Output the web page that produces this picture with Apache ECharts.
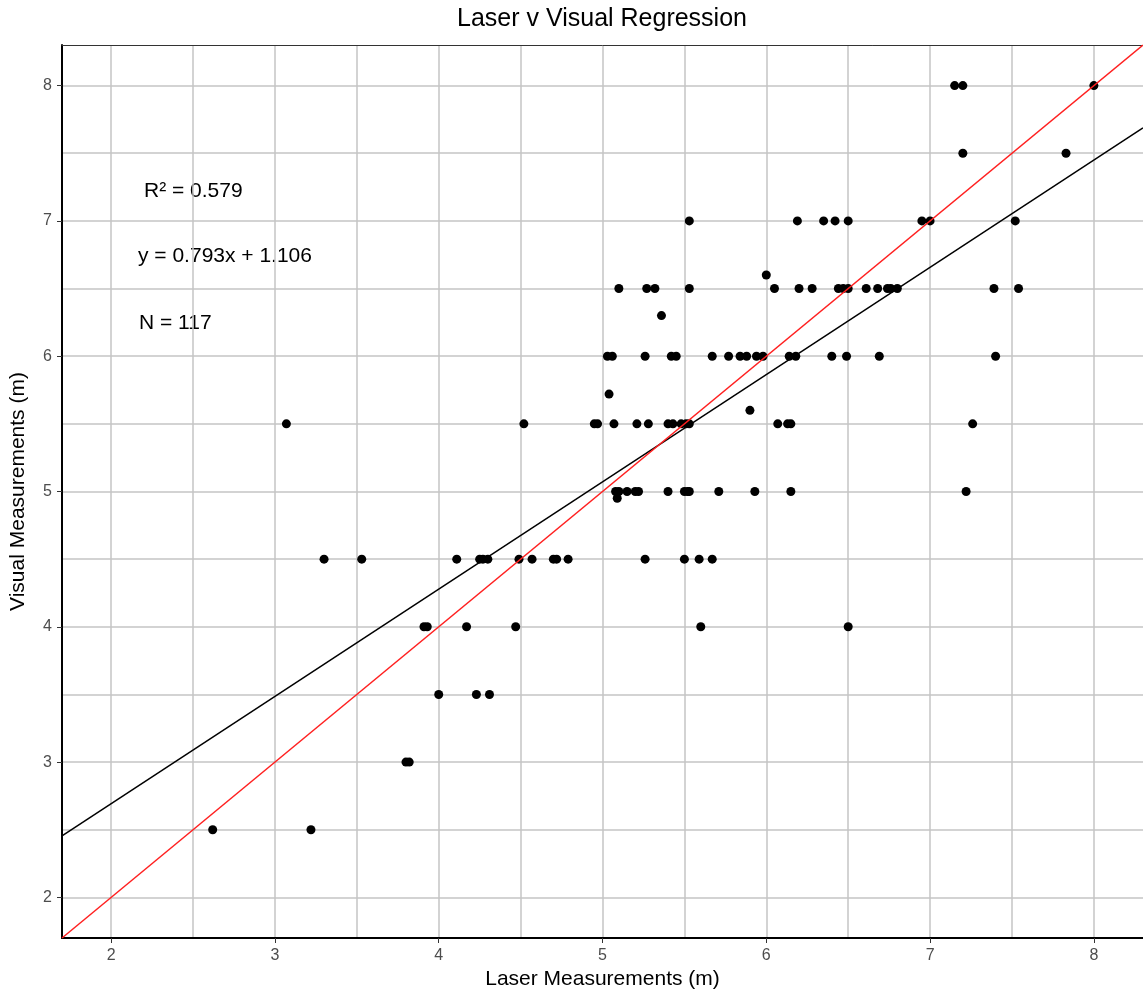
<!DOCTYPE html>
<html>
<head>
<meta charset="utf-8">
<script src="https://cdn.jsdelivr.net/npm/echarts@6/dist/echarts.min.js"></script>
<style>
html,body{margin:0;padding:0;background:#ffffff;}
#chart{width:1143px;height:994px;}
</style>
</head>
<body>
<div id="chart"></div>
<script>
// ---- data ----
const laserM = [
  7.15, 7.20, 8.00,
  7.20, 7.83,
  5.53, 6.19, 6.35, 6.42, 6.50, 6.95, 7.00, 7.52,
  6.00,
  5.10, 5.27, 5.32, 5.53, 6.05, 6.20, 6.28, 6.44, 6.47, 6.50, 6.61, 6.68, 6.74, 6.76, 6.80, 7.39, 7.54,
  5.36,
  5.03, 5.06, 5.26, 5.42, 5.45, 5.67, 5.77, 5.84, 5.88, 5.94, 5.98, 6.14, 6.18, 6.40, 6.49, 6.69, 7.40,
  5.04,
  5.90,
  3.07, 4.52, 4.95, 4.97, 5.07, 5.21, 5.28, 5.40, 5.43, 5.48, 5.51, 5.53, 6.07, 6.13, 6.15, 7.26,
  5.08, 5.10, 5.15, 5.20, 5.22, 5.40, 5.50, 5.52, 5.53, 5.71, 5.93, 6.15, 7.22,
  5.09,
  3.30, 3.53, 4.11, 4.25, 4.27, 4.30, 4.49, 4.57, 4.70, 4.72, 4.79, 5.26, 5.50, 5.59, 5.67,
  3.91, 3.93, 4.17, 4.47, 5.60, 6.50,
  4.00, 4.23, 4.31,
  3.80, 3.82,
  2.62, 3.22
];
const visualM = [
  8, 8, 8,
  7.5, 7.5,
  7, 7, 7, 7, 7, 7, 7, 7,
  6.6,
  6.5, 6.5, 6.5, 6.5, 6.5, 6.5, 6.5, 6.5, 6.5, 6.5, 6.5, 6.5, 6.5, 6.5, 6.5, 6.5, 6.5,
  6.3,
  6, 6, 6, 6, 6, 6, 6, 6, 6, 6, 6, 6, 6, 6, 6, 6, 6,
  5.72,
  5.6,
  5.5, 5.5, 5.5, 5.5, 5.5, 5.5, 5.5, 5.5, 5.5, 5.5, 5.5, 5.5, 5.5, 5.5, 5.5, 5.5,
  5, 5, 5, 5, 5, 5, 5, 5, 5, 5, 5, 5, 5,
  4.95,
  4.5, 4.5, 4.5, 4.5, 4.5, 4.5, 4.5, 4.5, 4.5, 4.5, 4.5, 4.5, 4.5, 4.5, 4.5,
  4, 4, 4, 4, 4, 4,
  3.5, 3.5, 3.5,
  3, 3,
  2.5, 2.5
];
const regSlope = 0.793;
const regIntercept = 1.106;
const axisMin = 1.7;
const axisMax = 8.3;
const majorTicks = [2, 3, 4, 5, 6, 7, 8];
const gridTicks = [2, 2.5, 3, 3.5, 4, 4.5, 5, 5.5, 6, 6.5, 7, 7.5, 8];
const titleText = 'Laser v Visual Regression';
const xName = 'Laser Measurements (m)';
const yName = 'Visual Measurements (m)';
const statR2 = 'R\u00B2 = 0.579';
const statEq = 'y = 0.793x + 1.106';
const statN = 'N = 117';

// ---- build ----
const FONT = "'Liberation Sans', Arial, Helvetica, sans-serif";
const points = laserM.map((x, i) => [x, visualM[i]]);
const fitLine = [axisMin, axisMax].map(x => [x, regSlope * x + regIntercept]);
const idLine = [axisMin, axisMax].map(x => [x, x]);

const chart = echarts.init(document.getElementById('chart'), null, {renderer: 'canvas'});

const gridLineStyle = {color: '#c4c4c4', width: 1.5};

chart.setOption({
  animation: false,
  backgroundColor: '#ffffff',
  textStyle: {fontFamily: FONT},
  grid: {left: 62, right: 0, top: 45, bottom: 56, containLabel: false, outerBoundsMode: 'none'},
  xAxis: [
    {
      type: 'value', position: 'bottom', min: axisMin, max: axisMax,
      name: xName, nameLocation: 'middle', nameGap: 31,
      nameTextStyle: {fontSize: 21, color: '#000', fontFamily: FONT},
      axisLine: {show: true, onZero: false, lineStyle: {color: '#000', width: 2}},
      axisTick: {show: true, length: 5, customValues: majorTicks, lineStyle: {color: '#333', width: 1}},
      axisLabel: {show: true, customValues: majorTicks, fontSize: 16, color: '#4d4d4d', margin: 10, fontFamily: FONT},
      splitLine: {show: false}
    },
    {
      type: 'value', position: 'top', min: axisMin, max: axisMax,
      axisLine: {show: true, onZero: false, lineStyle: {color: '#333', width: 1}},
      axisTick: {show: false, customValues: gridTicks},
      axisLabel: {show: false},
      splitLine: {show: true, lineStyle: gridLineStyle}
    }
  ],
  yAxis: [
    {
      type: 'value', position: 'left', min: axisMin, max: axisMax,
      name: yName, nameLocation: 'middle', nameGap: 33, nameRotate: 90,
      nameTextStyle: {fontSize: 21, color: '#000', fontFamily: FONT},
      axisLine: {show: true, onZero: false, lineStyle: {color: '#000', width: 2}},
      axisTick: {show: true, length: 5, customValues: majorTicks, lineStyle: {color: '#333', width: 1}},
      axisLabel: {show: true, customValues: majorTicks, fontSize: 16, color: '#4d4d4d', margin: 10, fontFamily: FONT},
      splitLine: {show: false}
    },
    {
      type: 'value', position: 'right', min: axisMin, max: axisMax,
      axisLine: {show: false},
      axisTick: {show: false, customValues: gridTicks},
      axisLabel: {show: false},
      splitLine: {show: true, lineStyle: gridLineStyle}
    }
  ],
  series: [
    {
      type: 'scatter', xAxisIndex: 0, yAxisIndex: 0, data: points,
      symbol: 'circle', symbolSize: 9,
      itemStyle: {color: '#000000', opacity: 1}, z: 3
    },
    {
      type: 'line', xAxisIndex: 0, yAxisIndex: 0, data: fitLine,
      showSymbol: false, symbol: 'none', silent: true,
      lineStyle: {color: '#000000', width: 1.5}, z: 4
    },
    {
      type: 'line', xAxisIndex: 0, yAxisIndex: 0, data: idLine,
      showSymbol: false, symbol: 'none', silent: true,
      lineStyle: {color: '#ff2020', width: 1.5}, z: 5
    }
  ],
  graphic: [
    {type: 'text', x: 602, y: 7, style: {text: titleText, font: '25px ' + FONT, fill: '#000', align: 'center', verticalAlign: 'top'}},
    {type: 'text', x: 144, y: 181, style: {text: statR2, font: '21px ' + FONT, fill: '#000', verticalAlign: 'top'}},
    {type: 'text', x: 138, y: 246, style: {text: statEq, font: '21px ' + FONT, fill: '#000', verticalAlign: 'top'}},
    {type: 'text', x: 139, y: 313, style: {text: statN, font: '21px ' + FONT, fill: '#000', verticalAlign: 'top'}}
  ]
});
</script>
</body>
</html>
